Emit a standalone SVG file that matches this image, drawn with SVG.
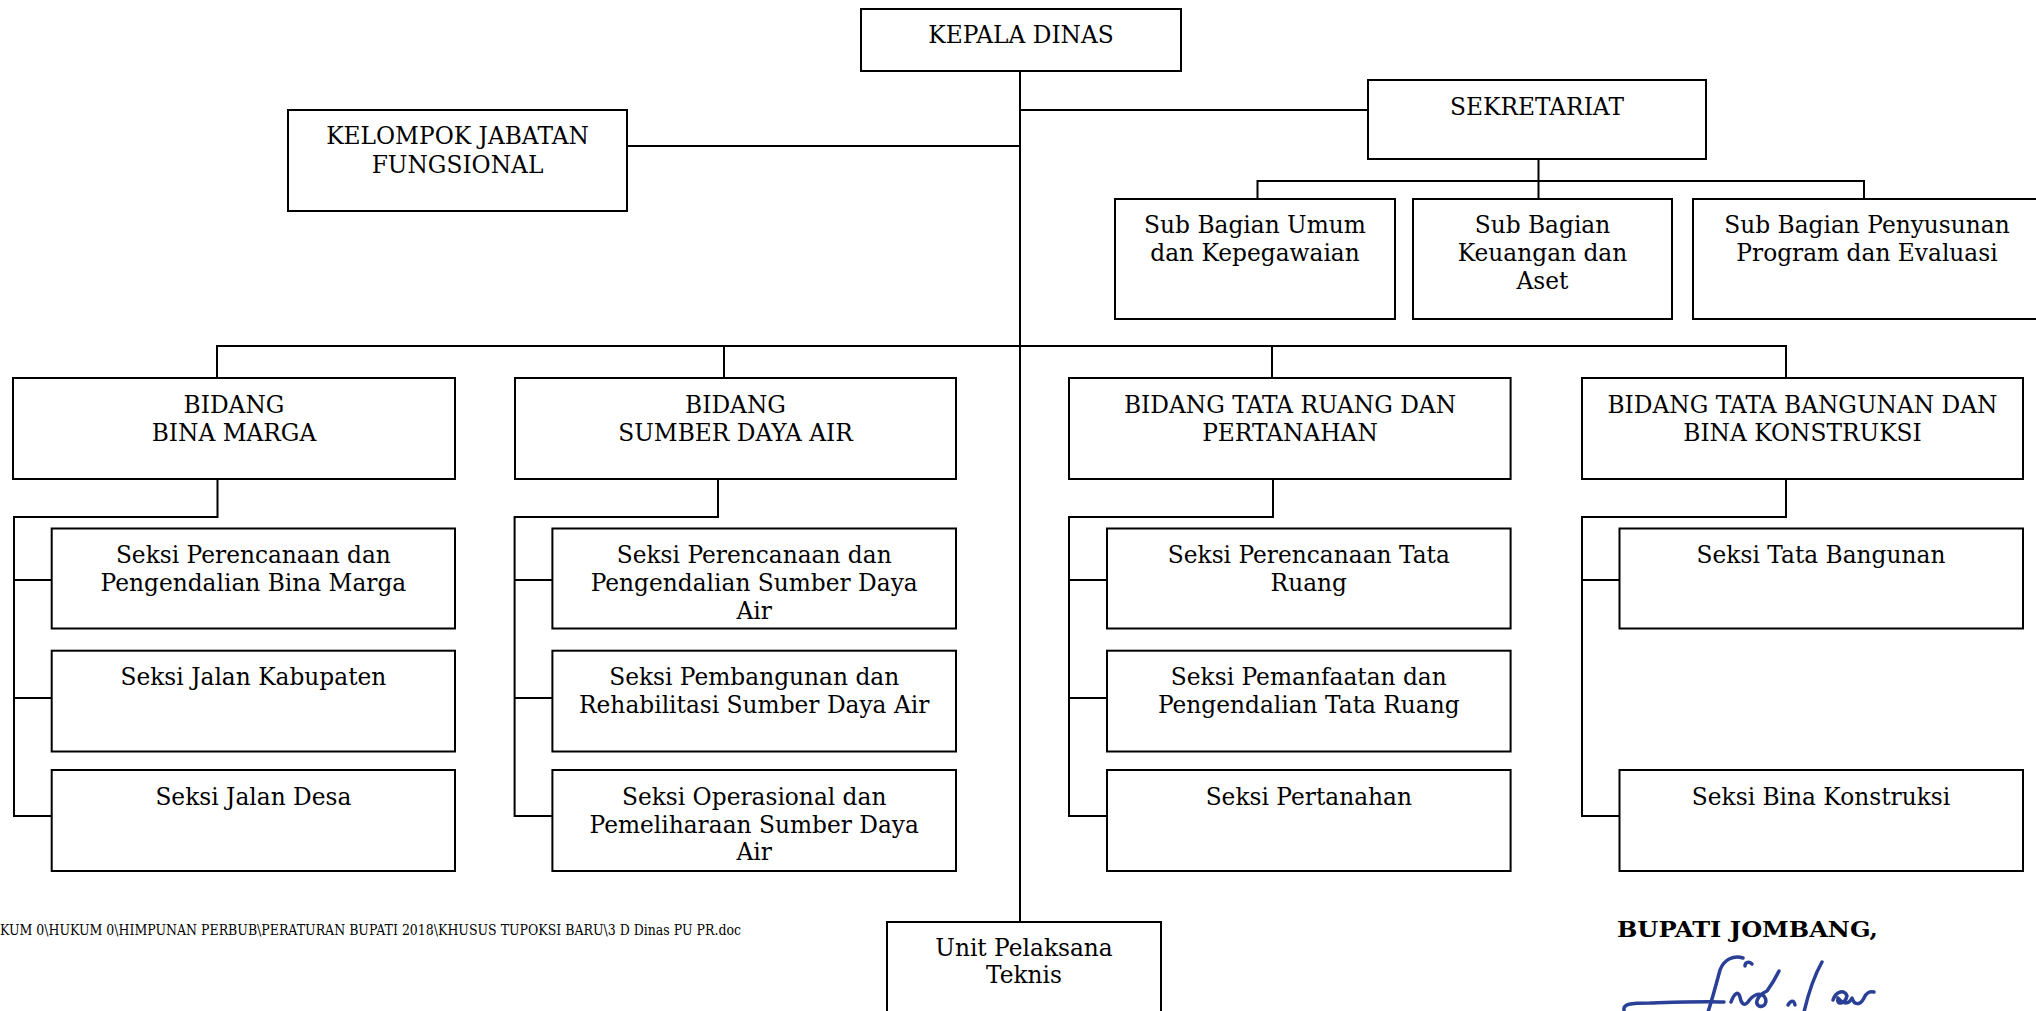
<svg xmlns="http://www.w3.org/2000/svg" width="2036" height="1011" viewBox="0 0 2036 1011">
<style>
.box{fill:#fff;stroke:#000;stroke-width:2}
.ln{fill:none;stroke:#000;stroke-width:2}
.t{font-family:"DejaVu Serif","Liberation Serif",serif;font-size:23.3px;fill:#000;text-anchor:middle}
.ft{font-family:"DejaVu Serif","Liberation Serif",serif;font-size:14px;fill:#000}
.bp{font-family:"DejaVu Serif","Liberation Serif",serif;font-size:23px;font-weight:bold;fill:#000}
.sig{fill:none;stroke:#2a3f96;stroke-width:3.5;stroke-linecap:round;stroke-linejoin:round}
</style>
<rect width="2036" height="1011" fill="#fff"/>
<g id="connectors">
<path class="ln" d="M1020,71V922"/>
<path class="ln" d="M627,146H1020"/>
<path class="ln" d="M1020,110H1368"/>
<path class="ln" d="M1538.5,159V199M1257.5,199V181H1864V199"/>
<path class="ln" d="M217,378V346H1786V378M724,346V378M1272,346V378"/>
<path class="ln" d="M217.5,479V517H14V816H51.7M14,580H51.7M14,698H51.7"/>
<path class="ln" d="M718,479V517H514.6V816H552.4M514.6,580H552.4M514.6,698H552.4"/>
<path class="ln" d="M1273,479V517H1069V816H1107M1069,580H1107M1069,698H1107"/>
<path class="ln" d="M1786,479V517H1582V816H1619.5M1582,580H1619.5"/>
</g>
<g id="kepala"><rect class="box" x="861" y="9" width="320" height="62"/><text class="t" x="1021" y="43">KEPALA DINAS</text></g>
<g id="kelompok"><rect class="box" x="288" y="110" width="339" height="101"/><text class="t" x="457.5" y="144">KELOMPOK JABATAN</text><text class="t" x="457.5" y="173">FUNGSIONAL</text></g>
<g id="sekretariat"><rect class="box" x="1368" y="80" width="338" height="79"/><text class="t" x="1537" y="115">SEKRETARIAT</text></g>
<g id="sub-umum"><rect class="box" x="1115" y="199" width="280" height="120"/><text class="t" x="1255" y="232.7">Sub Bagian Umum</text><text class="t" x="1255" y="260.7">dan Kepegawaian</text></g>
<g id="sub-keuangan"><rect class="box" x="1413" y="199" width="259" height="120"/><text class="t" x="1542.5" y="232.7">Sub Bagian</text><text class="t" x="1542.5" y="260.7">Keuangan dan</text><text class="t" x="1542.5" y="288.7">Aset</text></g>
<g id="sub-penyusunan"><rect class="box" x="1693" y="199" width="348" height="120"/><text class="t" x="1867" y="232.7">Sub Bagian Penyusunan</text><text class="t" x="1867" y="260.7">Program dan Evaluasi</text></g>
<g id="bidang-bm"><rect class="box" x="13" y="378" width="442" height="101"/><text class="t" x="234" y="413.3">BIDANG</text><text class="t" x="234" y="441">BINA MARGA</text></g>
<g id="bidang-sda"><rect class="box" x="515" y="378" width="441" height="101"/><text class="t" x="735.5" y="413.3">BIDANG</text><text class="t" x="735.5" y="441">SUMBER DAYA AIR</text></g>
<g id="bidang-tr"><rect class="box" x="1069" y="378" width="441.6" height="101"/><text class="t" x="1290" y="413.3">BIDANG TATA RUANG DAN</text><text class="t" x="1290" y="441">PERTANAHAN</text></g>
<g id="bidang-tb"><rect class="box" x="1582" y="378" width="441" height="101"/><text class="t" x="1802.5" y="413.3">BIDANG TATA BANGUNAN DAN</text><text class="t" x="1802.5" y="441">BINA KONSTRUKSI</text></g>
<g id="bm-1"><rect class="box" x="51.7" y="528.5" width="403.3" height="100"/><text class="t" x="253.4" y="563">Seksi Perencanaan dan</text><text class="t" x="253.4" y="591.4">Pengendalian Bina Marga</text></g>
<g id="bm-2"><rect class="box" x="51.7" y="650.7" width="403.3" height="100.8"/><text class="t" x="253.4" y="685">Seksi Jalan Kabupaten</text></g>
<g id="bm-3"><rect class="box" x="51.7" y="770" width="403.3" height="101"/><text class="t" x="253.4" y="805">Seksi Jalan Desa</text></g>
<g id="sda-1"><rect class="box" x="552.4" y="528.5" width="403.6" height="100"/><text class="t" x="754.2" y="563">Seksi Perencanaan dan</text><text class="t" x="754.2" y="591.4">Pengendalian Sumber Daya</text><text class="t" x="754.2" y="619">Air</text></g>
<g id="sda-2"><rect class="box" x="552.4" y="650.7" width="403.6" height="100.8"/><text class="t" x="754.2" y="685">Seksi Pembangunan dan</text><text class="t" x="754.2" y="713">Rehabilitasi Sumber Daya Air</text></g>
<g id="sda-3"><rect class="box" x="552.4" y="770" width="403.6" height="101"/><text class="t" x="754.2" y="805">Seksi Operasional dan</text><text class="t" x="754.2" y="833">Pemeliharaan Sumber Daya</text><text class="t" x="754.2" y="860">Air</text></g>
<g id="tr-1"><rect class="box" x="1107" y="528.5" width="403.6" height="100"/><text class="t" x="1308.8" y="563">Seksi Perencanaan Tata</text><text class="t" x="1308.8" y="591.4">Ruang</text></g>
<g id="tr-2"><rect class="box" x="1107" y="650.7" width="403.6" height="100.8"/><text class="t" x="1308.8" y="685">Seksi Pemanfaatan dan</text><text class="t" x="1308.8" y="713">Pengendalian Tata Ruang</text></g>
<g id="tr-3"><rect class="box" x="1107" y="770" width="403.6" height="101"/><text class="t" x="1308.8" y="805">Seksi Pertanahan</text></g>
<g id="tb-1"><rect class="box" x="1619.5" y="528.5" width="403.5" height="100"/><text class="t" x="1821" y="563">Seksi Tata Bangunan</text></g>
<g id="tb-3"><rect class="box" x="1619.5" y="770" width="403.5" height="101"/><text class="t" x="1821" y="805">Seksi Bina Konstruksi</text></g>
<g id="upt"><rect class="box" x="887" y="922" width="274" height="110"/><text class="t" x="1024" y="956">Unit Pelaksana</text><text class="t" x="1024" y="983">Teknis</text></g>
<text class="ft" x="0" y="935" textLength="741" lengthAdjust="spacingAndGlyphs">KUM 0\HUKUM 0\HIMPUNAN PERBUB\PERATURAN BUPATI 2018\KHUSUS TUPOKSI BARU\3 D Dinas PU PR.doc</text>
<text class="bp" x="1617" y="937" textLength="261" lengthAdjust="spacingAndGlyphs">BUPATI JOMBANG,</text>
<g id="signature">
<path class="sig" d="M1624,1010C1623,1004 1630,1003 1650,1003C1680,1002 1705,1001 1724,1002"/>
<path class="sig" d="M1743,958C1734,955 1724,959 1720,970C1716,985 1712,1000 1708,1012"/>
<path class="sig" d="M1745,966C1745,962 1749,961 1752,964"/>
<path class="sig" d="M1731,1002C1734,994 1738,990 1740,997C1741,1003 1744,1007 1748,1002C1752,996 1758,992 1764,996C1768,1001 1765,1008 1759,1006C1754,1003 1758,995 1767,991C1772,984 1776,977 1779,971"/>
<path class="sig" d="M1822,962C1814,976 1808,995 1804,1012"/>
<path class="sig" d="M1788,1005C1791,1000 1794,1000 1795,1005"/>
<path class="sig" d="M1833,1000C1836,991 1845,989 1847,996C1845,1004 1836,1006 1838,998C1842,1003 1848,1006 1852,998C1854,1005 1860,1006 1864,998C1866,993 1870,991 1874,992"/>
</g>
</svg>
